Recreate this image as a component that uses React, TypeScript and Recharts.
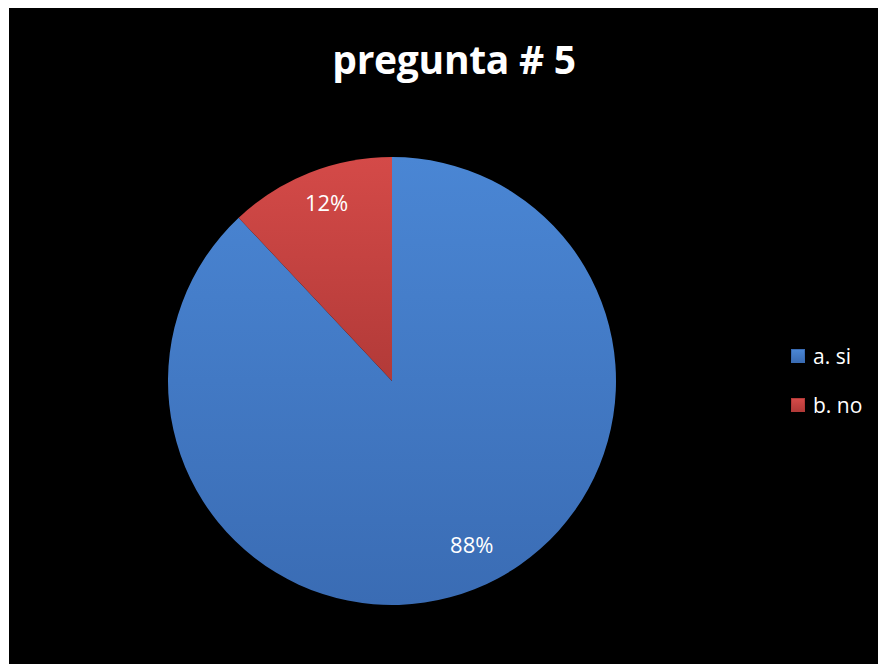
import React from 'react';
import { PieChart, Pie, Cell, Legend } from 'recharts';

const categories = ['a. si', 'b. no'];
const values = [88, 12];
const colors = ['#4a86d4', '#d44a48'];
const darkColors = ['#3a6cb4', '#b23a38'];
// small nudge of label angle (degrees) to sit where the original labels sit
const labelShift = [3.8, -1];

const data = categories.map((name, i) => ({ name, value: values[i] }));

const RAD = Math.PI / 180;

// percent label placed inside each slice
const renderLabel = (props: any) => {
  const { cx, cy, midAngle, outerRadius, percent, index } = props;
  const r = outerRadius * 0.83;
  const a = midAngle + (labelShift[index] || 0);
  const x = cx + r * Math.cos(-a * RAD);
  const y = cy + r * Math.sin(-a * RAD);
  return (
    <text x={x} y={y} dy={4} fill="#ffffff" textAnchor="middle"
      fontSize={22} fontFamily="'Open Sans', sans-serif">
      {`${Math.round(percent * 100)}%`}
    </text>
  );
};

const renderLegend = () => (
  <div style={{ fontFamily: "'Open Sans', sans-serif", color: '#fff', fontSize: 21 }}>
    {categories.map((c, i) => (
      <div key={c} style={{ display: 'flex', alignItems: 'center', height: 49 }}>
        <span style={{
          width: 14, height: 14, marginRight: 8, display: 'inline-block', boxSizing: 'border-box',
          background: `linear-gradient(${colors[i]}, ${darkColors[i]})`,
          border: `1px solid ${darkColors[i]}`,
        }} />
        {c}
      </div>
    ))}
  </div>
);

export default function App() {
  return (
    <div style={{ position: 'relative', width: 876, height: 656, background: '#000', marginLeft: 1 }}>
      <div style={{
        position: 'absolute', top: 24, left: 0, width: 890, textAlign: 'center',
        color: '#fff', fontFamily: "'Open Sans', sans-serif", fontWeight: 700, fontSize: 39,
        letterSpacing: -0.3,
      }}>
        pregunta # 5
      </div>
      <PieChart width={876} height={656}>
        <defs>
          {colors.map((c, i) => (
            <linearGradient key={i} id={`grad${i}`} x1="0" y1="0" x2="0" y2="1">
              <stop offset="0%" stopColor={c} />
              <stop offset="100%" stopColor={darkColors[i]} />
            </linearGradient>
          ))}
        </defs>
        <Pie
          data={data}
          dataKey="value"
          nameKey="name"
          cx={378}
          cy={368}
          outerRadius={224}
          startAngle={90}
          endAngle={-270}
          stroke="none"
          label={renderLabel}
          labelLine={false}
          isAnimationActive={false}
        >
          {data.map((d, i) => (
            <Cell key={d.name} fill={`url(#grad${i})`} />
          ))}
        </Pie>
        <Legend
          layout="vertical"
          content={renderLegend}
          wrapperStyle={{ position: 'absolute', left: 782, top: 323, width: 92 }}
        />
      </PieChart>
    </div>
  );
}
